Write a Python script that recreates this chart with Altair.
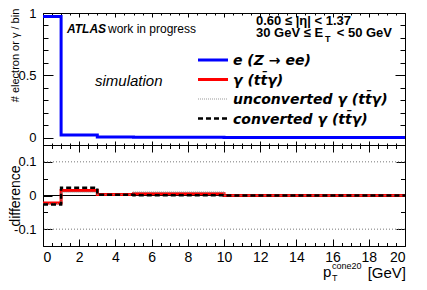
import altair as alt
import pandas as pd

# ---------------- data ----------------
edges = [0, 1, 3, 5, 10, 20]                      # bin edges, GeV
e_frac = [0.972, 0.020, 0.004, 0.002, 0.001]      # e (Z->ee), fraction per bin
diff_gamma = [-0.022, 0.015, 0.003, 0.005, 0.0]   # gamma (ttgamma) - e
diff_unconv = [-0.024, 0.010, 0.003, 0.010, 0.0]  # unconverted gamma - e
diff_conv = [-0.027, 0.023, 0.002, 0.001, 0.0]    # converted gamma - e
grid_lines = [-0.1, 0.1]
zero_line = [0.0]

x_labels = list(range(0, 21, 2))
x_ticks = [i * 0.5 for i in range(41)]
ytop_labels = [0, 0.5, 1]
ytop_ticks = [round(i * 0.1, 2) for i in range(11)]
ybot_labels = [-0.1, 0, 0.1]
ybot_ticks = [round(i * 0.05, 2) for i in range(-3, 4)]

FONT = "Liberation Sans"
LFONT = "DejaVu Sans"
W, H, HT = 362, 233, 132


def steps(vals):
    return pd.DataFrame({"x": edges, "y": list(vals) + [vals[-1]]})


xs = alt.Scale(domain=[0, 20], nice=False, zero=False)
ys_top = alt.Scale(domain=[-0.06, 1.0], range=[HT, 0], nice=False, zero=False)
ys_bot = alt.Scale(domain=[-0.15, 0.15], range=[H, HT], nice=False, zero=False)

LBL = "datum.value < 0 ? '-' + (-datum.value) : '' + datum.value"


def tick_axis(orient, offset, values, test, major, minor, domain=False):
    return alt.Axis(orient=orient, offset=offset, values=values, labels=False,
                    domain=domain, domainColor="black", domainWidth=1, grid=False,
                    tickColor="black", tickWidth=1,
                    tickSize={"condition": {"test": test, "value": major}, "value": minor},
                    title=None)


def label_axis(orient, values, pad, size):
    return alt.Axis(orient=orient, values=values, ticks=False, tickSize=0, domain=False,
                    grid=False, labelFont=FONT, labelFontSize=size, labelPadding=pad,
                    labelColor="black", labelExpr=LBL, title=None)


XMAJ = "datum.value % 2 === 0"
YTMAJ = "abs(datum.value * 2 - round(datum.value * 2)) < 1e-6"
YBMAJ = "abs(datum.value * 10 - round(datum.value * 10)) < 1e-6"


def X(axis):
    return alt.X("x:Q", scale=xs, axis=axis)


def line(vals, yscale, xaxis, yaxis, **kw):
    return alt.Chart(steps(vals)).mark_line(interpolate="step-after", **kw).encode(
        x=X(xaxis), y=alt.Y("y:Q", scale=yscale, axis=yaxis))


def text(t, x, y, size=12, weight="normal", style="normal", align="left",
         baseline="alphabetic", angle=0, font=FONT):
    return alt.Chart(alt.Data(values=[{}])).mark_text(
        text=t, font=font, fontSize=size, fontWeight=weight, fontStyle=style,
        align=align, baseline=baseline, angle=angle, color="black").encode(
        x=alt.value(x), y=alt.value(y))


def sample(y, **kw):
    return alt.Chart(alt.Data(values=[{}])).mark_rule(**kw).encode(
        x=alt.value(155), x2=alt.value(185), y=alt.value(y))


# bottom panel reference lines
grid = alt.Chart(pd.DataFrame({"y": grid_lines})).mark_rule(
    color="#777", strokeWidth=1, strokeDash=[1, 2]).encode(
    y=alt.Y("y:Q", scale=ys_bot, axis=None))
zero = alt.Chart(pd.DataFrame({"y": zero_line})).mark_rule(
    color="black", strokeWidth=1).encode(y=alt.Y("y:Q", scale=ys_bot, axis=None))

red = line(diff_gamma, ys_bot,
           tick_axis("top", -H, x_ticks, XMAJ, 7, 3.5),
           label_axis("left", ybot_labels, 7, 13),
           color="#ff0000", strokeWidth=3)
gray = line(diff_unconv, ys_bot,
            tick_axis("bottom", -(H - HT), x_ticks, XMAJ, 7, 3.5, domain=True),
            tick_axis("right", -W, ybot_ticks, YBMAJ, 9, 4.5),
            color="#888888", strokeWidth=1.2, strokeDash=[1, 1])
black = line(diff_conv, ys_bot, None,
             tick_axis("left", -W, ybot_ticks, YBMAJ, 9, 4.5),
             color="black", strokeWidth=2.5, strokeDash=[5, 3])

blue = line(e_frac, ys_top,
            label_axis("bottom", x_labels, 4, 14),
            label_axis("left", ytop_labels, 7, 13),
            color="#0000ff", strokeWidth=3)
top_ax1 = line(e_frac, ys_top,
               tick_axis("top", -HT, x_ticks, XMAJ, 4, 2),
               tick_axis("right", -W, ytop_ticks, YTMAJ, 10, 5),
               opacity=0)
top_ax2 = line(e_frac, ys_top,
               tick_axis("bottom", -H, x_ticks, XMAJ, 4, 2),
               tick_axis("left", -W, ytop_ticks, YTMAJ, 10, 5),
               opacity=0)

LEG = 14
texts = [
    text("ATLAS", 24, 19.5, 12, "bold", "italic"),
    text("work in progress", 65, 19.5, 12),
    text("simulation", 52, 73, 15, style="italic"),
    text("0.60 \u2264 |\u03b7| < 1.37", 213, 12, 13, "bold"),
    text("30 GeV \u2264 E", 213, 24.3, 13, "bold"),
    text("T", 282, 28.7, 9, "bold"),
    text(" < 50 GeV", 349, 24.3, 13, "bold", align="right"),
    text("e (Z \u2192 ee)", 190, 52, LEG, "bold", "italic", font=LFONT),
    text("\u03b3 (tt\u0304\u03b3)", 190, 71.5, LEG, "bold", "italic", font=LFONT),
    text("unconverted \u03b3 (tt\u0304\u03b3)", 190, 91, LEG, "bold", "italic", font=LFONT),
    text("converted \u03b3 (tt\u0304\u03b3)", 190, 110.5, LEG, "bold", "italic", font=LFONT),
    text("# electron or \u03b3 / bin", -27, 42.5, 11, align="center", baseline="middle", angle=270),
    text("difference", -27, 183, 14, align="center", baseline="middle", angle=270),
    text("p", 280, 264, 15),
    text("cone20", 289, 256, 9),
    text("T", 289, 268, 9),
    text("[GeV]", 363, 265, 15, align="right"),
]
samples = [
    sample(47, color="#0000ff", strokeWidth=3),
    sample(66.5, color="#ff0000", strokeWidth=3),
    sample(86, color="#999999", strokeWidth=1, strokeDash=[1, 1]),
    sample(105.5, color="black", strokeWidth=2.5, strokeDash=[5, 3]),
]

chart = alt.layer(
    grid, zero, red, gray, black, blue, top_ax1, top_ax2, *samples, *texts
).resolve_scale(x="independent", y="independent").properties(
    width=W, height=H, autosize="none",
    padding={"left": 35, "top": 5, "right": 14, "bottom": 36},
    background="white",
).configure_view(stroke="black", strokeWidth=1)

chart.save("out.html", embed_options={"renderer": "svg", "actions": False})
